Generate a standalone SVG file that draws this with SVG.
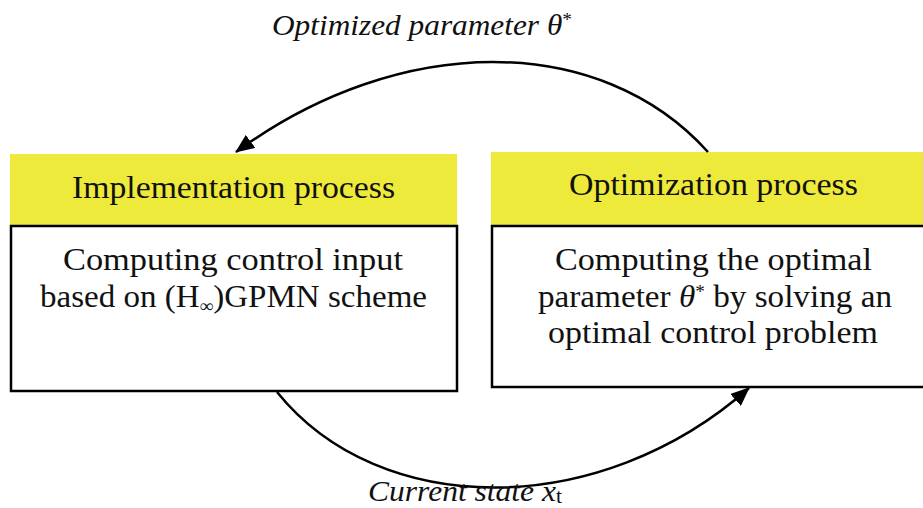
<svg xmlns="http://www.w3.org/2000/svg" width="923" height="508" viewBox="0 0 923 508">
<style>
.hdr{fill:#EEEA3C}
.box{fill:#FFFFFF;stroke:#000;stroke-width:2.5}
.t{font-family:"Liberation Serif","Times New Roman",serif;font-size:31px;fill:#111}
.lbl{font-family:"Liberation Serif","Times New Roman",serif;font-size:29px;font-style:italic;fill:#111}
.conn{fill:none;stroke:#000;stroke-width:2.5}
</style>
<defs>
<marker id="ah" markerUnits="userSpaceOnUse" markerWidth="20" markerHeight="16" refX="18" refY="8" orient="auto">
<path d="M0,0 L19,8 L0,16 z" fill="#000"/>
</marker>
</defs>
<rect width="923" height="508" fill="#fff"/>
<g id="implementation">
<rect class="hdr" x="10" y="154" width="447" height="72"/>
<rect class="box" x="11" y="226" width="446" height="165"/>
<text class="t" x="233.5" y="198" text-anchor="middle" textLength="323" lengthAdjust="spacingAndGlyphs">Implementation process</text>
<text class="t" x="233" y="270" text-anchor="middle" textLength="340" lengthAdjust="spacingAndGlyphs">Computing control input</text>
<text class="t" x="233.5" y="307" text-anchor="middle" textLength="387" lengthAdjust="spacingAndGlyphs">based on (H<tspan font-size="18" dy="5">∞</tspan><tspan dy="-5">)GPMN scheme</tspan></text>
</g>
<g id="optimization">
<rect class="hdr" x="491" y="152" width="440" height="73"/>
<rect class="box" x="492" y="226" width="440" height="161"/>
<text class="t" x="713.5" y="195" text-anchor="middle" textLength="289" lengthAdjust="spacingAndGlyphs">Optimization process</text>
<text class="t" x="713.5" y="270" text-anchor="middle" textLength="317" lengthAdjust="spacingAndGlyphs">Computing the optimal</text>
<text class="t" x="715" y="307" text-anchor="middle" textLength="354" lengthAdjust="spacingAndGlyphs">parameter <tspan font-style="italic">θ</tspan><tspan font-size="18" dy="-9">*</tspan><tspan dy="9"> by solving an</tspan></text>
<text class="t" x="713" y="343" text-anchor="middle" textLength="330" lengthAdjust="spacingAndGlyphs">optimal control problem</text>
</g>
<g id="connectors">
<path class="conn" d="M708,152 C600,32 400,32 236,152" marker-end="url(#ah)"/>
<path class="conn" d="M277,392 C380,520 600,520 749,388" marker-end="url(#ah)"/>
</g>
<g id="labels">
<text class="lbl" x="272" y="35" textLength="300" lengthAdjust="spacingAndGlyphs">Optimized parameter θ<tspan font-size="18" dy="-9" font-style="normal">*</tspan></text>
<text class="lbl" x="368" y="501" textLength="194" lengthAdjust="spacingAndGlyphs">Current state x<tspan font-size="20" dy="2" font-style="normal">t</tspan></text>
</g>
</svg>
